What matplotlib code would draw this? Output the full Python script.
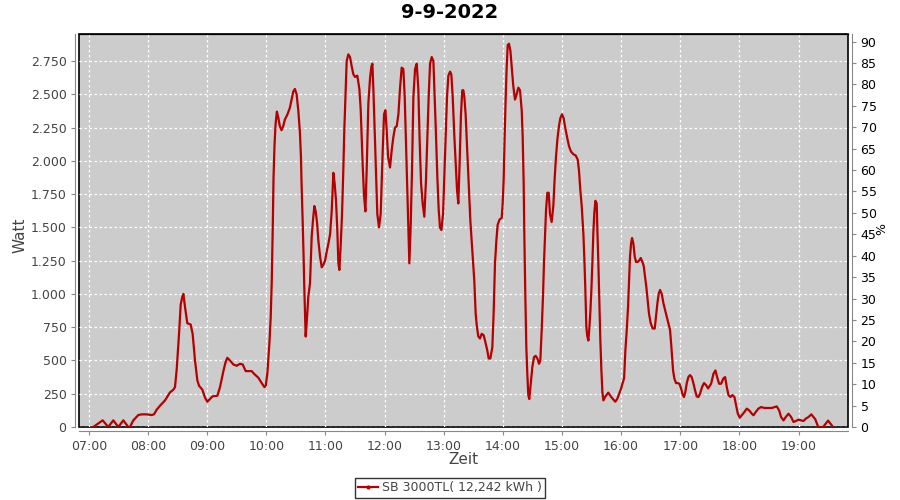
""" Tagesverlauf der Wechselrichterleistung (SB 3000TL) am 9-9-2022. """
import matplotlib
matplotlib.use("Agg")
import matplotlib.pyplot as plt
from matplotlib.lines import Line2D
from matplotlib.ticker import FuncFormatter, MultipleLocator

title = "9-9-2022"
series_name = "SB 3000TL( 12,242 kWh )"

# minutes after 07:00 and power in W
minutes = [
    4.4, 13.9, 19.6, 24.7, 29.8, 34.9, 39.9, 41.6, 45.0, 50.1, 53.5, 58.5, 63.6, 66.0,
    68.7, 72.1, 77.2, 82.2, 85.6, 87.3, 89.0, 91.4, 93.1, 94.8, 95.8, 97.5, 99.8,
    103.2, 105.2, 107.6, 110.0, 111.7, 115.1, 117.8, 120.1, 122.8, 125.2, 130.3,
    133.0, 136.4, 138.7, 140.4, 143.1, 146.5, 149.9, 153.3, 156.0, 159.0, 165.1,
    167.5, 171.9, 175.3, 178.0, 179.4, 181.0, 183.1, 184.4, 185.5, 186.5, 187.3,
    188.3, 189.3, 190.7, 192.0, 193.7, 195.4, 197.1, 198.8, 201.5, 203.9, 205.6,
    207.3, 209.0, 210.7, 212.4, 214.1, 215.1, 215.8, 216.8, 217.8, 218.5, 219.3,
    219.9, 220.9, 222.6, 224.3, 226.0, 227.4, 228.7, 230.1, 231.5, 232.8, 234.5,
    236.2, 237.9, 239.6, 241.3, 243.0, 244.7, 246.3, 248.0, 249.3, 250.7, 252.0,
    253.1, 254.1, 255.4, 256.8, 258.1, 259.1, 260.2, 261.5, 263.2, 264.9, 266.6,
    268.3, 270.0, 272.3, 274.4, 275.7, 276.7, 277.8, 279.1, 280.5, 281.8, 283.5,
    285.2, 286.6, 287.6, 288.6, 289.9, 291.3, 292.6, 294.3, 296.0, 297.0, 298.1,
    299.4, 300.8, 302.1, 303.5, 305.5, 307.2, 308.9, 310.6, 312.3, 314.0, 315.6,
    317.3, 319.0, 320.4, 321.7, 323.1, 324.1, 325.1, 326.5, 327.8, 329.2, 330.9,
    332.6, 334.2, 335.6, 337.0, 338.6, 340.3, 342.0, 343.4, 344.7, 346.1, 347.8,
    349.5, 350.8, 352.2, 353.5, 354.9, 356.2, 357.6, 359.3, 360.6, 362.0, 363.3,
    364.7, 366.4, 367.7, 369.1, 370.8, 372.1, 373.5, 374.8, 376.1, 377.5, 378.8,
    379.9, 380.9, 382.2, 383.2, 384.3, 385.6, 387.0, 388.3, 389.7, 391.0, 392.4,
    393.7, 395.1, 396.8, 398.5, 400.5, 402.5, 404.2, 405.6, 407.3, 409.3, 410.6,
    412.0, 413.4, 414.7, 416.7, 418.8, 419.8, 420.8, 421.8, 422.8, 423.8, 424.9,
    426.2, 427.6, 428.9, 430.6, 432.3, 434.0, 435.7, 437.4, 439.1, 440.1, 441.1,
    441.8, 442.8, 443.8, 444.8, 445.8, 446.8, 448.2, 449.9, 451.6, 453.3, 455.0,
    456.7, 458.0, 459.4, 460.7, 461.7, 462.7, 463.8, 465.1, 466.5, 467.8, 469.5,
    471.2, 472.5, 473.9, 475.3, 476.9, 478.3, 480.0, 481.7, 483.0, 485.1, 487.1,
    489.1, 491.5, 493.9, 495.9, 497.2, 498.6, 500.0, 501.7, 502.7, 503.7, 504.7,
    505.7, 506.8, 507.8, 508.8, 509.8, 510.8, 511.8, 512.8, 513.9, 515.2, 515.9,
    516.9, 517.9, 518.9, 520.0, 521.0, 522.0, 524.0, 527.0, 530.0, 534.0, 536.0,
    538.0, 540.0, 541.5, 543.0, 544.3, 545.7, 547.0, 548.0, 549.0,
    550.1, 551.1, 552.4, 553.8, 555.1, 556.5, 558.2, 559.9, 561.6, 562.9, 564.3,
    565.6, 567.0, 568.3, 570.0, 572.0, 574.1, 575.4, 576.8, 578.1, 579.5, 581.2,
    582.9, 584.6, 586.3, 587.9, 589.6, 590.7, 591.7, 592.7, 594.0, 595.7, 597.4,
    599.1, 600.8, 602.5, 603.8, 605.2, 606.6, 608.2, 609.9, 611.6, 613.3, 615.0,
    616.7, 618.4, 620.1, 622.1, 624.1, 626.2, 628.2, 631.3, 633.7, 635.7, 637.4,
    639.4, 641.4, 643.8, 645.5, 647.2, 648.9, 650.9, 652.9, 655.0, 656.3, 658.4,
    660.4, 662.4, 665.1, 667.5, 669.9, 672.6, 674.3, 676.6, 679.3, 682.0, 685.4,
    692.9, 697.9, 700.3, 702.3, 704.7, 707.1, 709.8, 712.5, 714.9, 717.2, 719.9,
    722.6, 725.0, 727.4, 730.1, 733.0, 737.0, 740.0, 745.0, 750.0, 755.0,
]
watt = [
    0, 50, 0, 50, 0, 50, 0, 0, 50, 90, 95, 95, 90, 95,
    130, 160, 200, 260, 280, 300, 430, 700, 920, 980, 1000, 900, 780,
    770, 700, 500, 350, 310, 280, 220, 190, 210, 230, 235,
    300, 420, 490, 520, 500, 470, 460, 475, 470, 420, 420,
    400, 370, 330, 300, 310, 400, 630, 820, 1100, 1500, 1880,
    2120, 2270, 2370, 2330, 2260, 2230, 2260, 2310, 2350, 2400, 2460,
    2520, 2540, 2500, 2380, 2210, 2030, 1810, 1560, 1280, 1050, 850,
    680, 780, 980, 1080, 1430, 1560, 1660, 1620, 1530, 1400, 1280,
    1200, 1220, 1250, 1320, 1380, 1450, 1620, 1910, 1830, 1700, 1480,
    1230, 1180, 1360, 1600, 1930, 2230, 2480, 2750, 2800, 2780, 2710,
    2650, 2630, 2640, 2540, 2390, 2190, 1960, 1740, 1620, 1930, 2430,
    2620, 2710, 2730, 2540, 2230, 1910, 1600, 1500, 1600, 1830, 2080,
    2350, 2380, 2230, 2030, 1950, 2080, 2180, 2250, 2260, 2350, 2540,
    2700, 2690, 2480, 2140, 1790, 1490, 1230, 1520, 1930, 2480, 2690,
    2730, 2540, 2140, 1830, 1680, 1580, 1860, 2180, 2480, 2730, 2780,
    2750, 2480, 2180, 1880, 1630, 1500, 1480, 1600, 1880, 2180, 2480,
    2640, 2670, 2650, 2480, 2180, 1980, 1780, 1680, 1980, 2350, 2530,
    2530, 2480, 2350, 2180, 1980, 1780, 1550, 1400, 1230, 1100, 850,
    750, 680, 665, 700, 690, 630, 575, 515, 515, 600, 850,
    1230, 1400, 1520, 1560, 1570, 1680, 1860, 2180, 2460, 2690, 2870,
    2880, 2830, 2710, 2560, 2460, 2500, 2550, 2530, 2380, 2180, 1830,
    1430, 980, 600, 400, 240, 210, 320, 450, 525, 535, 515,
    475, 500, 730, 980, 1230, 1430, 1630, 1760, 1760, 1600, 1540,
    1660, 1860, 2030, 2160, 2260, 2320, 2350, 2320, 2260, 2180, 2110,
    2070, 2050, 2040, 2010, 1930, 1780, 1660, 1450, 1260, 1030, 750,
    680, 650, 750, 870, 1030, 1230, 1460, 1610, 1700, 1680, 1480,
    1230, 930, 650, 420, 260, 200, 230, 258, 225, 190, 210,
    250, 290, 330, 365, 575, 730, 900, 1100, 1280,
    1380, 1420, 1380, 1280, 1240, 1240, 1250, 1270, 1240, 1210, 1130,
    1050, 950, 850, 780, 740, 740, 830, 930, 1000, 1030, 1000,
    930, 880, 830, 780, 730, 630, 525, 425, 365, 330, 330,
    325, 290, 240, 225, 265, 330, 375, 390, 375, 330, 275,
    230, 225, 250, 300, 330, 315, 290, 325, 400, 425, 375,
    325, 325, 365, 375, 300, 240, 225, 240, 225, 175, 100,
    70, 88, 113, 138, 125, 100, 88, 113, 138, 150, 143,
    143, 155, 125, 75, 50, 75, 100, 75, 38, 45, 55,
    50, 45, 63, 75, 95, 58, 0, 0, 48, 0,
]

x_ticks = list(range(0, 721, 60))
line_color = "#b40000"
tick_color = "#444444"


def hhmm(m, pos=None):
    m = int(round(m))
    return "%02d:%02d" % (7 + m // 60, m % 60)


def main():
    fig = plt.figure(figsize=(9, 5), dpi=100)
    ax = fig.add_axes([79 / 900, 1 - 427 / 500, 769 / 900, 393 / 500])
    ax2 = ax.twinx()

    ax.set_facecolor("#cccccc")
    ax.patch.set_edgecolor("black")
    ax.patch.set_linewidth(1.2)
    ax.plot(minutes, watt, color=line_color, lw=1.6, zorder=3)

    ax.set_xlim(-10.1, 770.2)
    ax.set_ylim(0, 2953)
    ax2.set_ylim(0, 91.76)

    ax.set_xticks(x_ticks)
    ax.xaxis.set_major_formatter(FuncFormatter(hhmm))
    ax.yaxis.set_major_locator(MultipleLocator(250))
    ax.yaxis.set_major_formatter(
        FuncFormatter(lambda v, p: "{:,.0f}".format(v).replace(",", ".")))
    ax2.yaxis.set_major_locator(MultipleLocator(5))

    ax.grid(True, color="white", linestyle=(0, (2, 2)), lw=0.9)
    ax.set_axisbelow(True)

    for a in (ax, ax2):
        for side in ("left", "bottom", "right"):
            a.spines[side].set_position(("outward", 3))
            a.spines[side].set_color("#888888")
        a.spines["top"].set_color("black")
    ax.spines["right"].set_visible(False)
    ax2.spines["left"].set_visible(False)
    ax2.spines["bottom"].set_visible(False)

    ax.tick_params(axis="both", direction="out", length=3, color="#888888",
                   labelcolor=tick_color, labelsize=9, pad=3)
    ax2.tick_params(axis="y", direction="out", length=3, color="#888888",
                    labelcolor="black", labelsize=9, pad=3)

    fig.text(0.5, 1 - 13 / 500, title, ha="center", va="center",
             fontsize=14, fontweight="bold")
    fig.text(20 / 900, 1 - 235 / 500, "Watt", rotation=90, ha="center",
             va="center", fontsize=11, color=tick_color)
    fig.text(463 / 900, 1 - 460 / 500, "Zeit", ha="center", va="center",
             fontsize=11, color=tick_color)
    fig.text(882 / 900, 1 - 229 / 500, "%", rotation=90, ha="center",
             va="center", fontsize=9, color="black")

    handle = Line2D([], [], color=line_color, lw=1.6, marker="o", markersize=2)
    leg = fig.legend([handle], [series_name], loc="center",
                     bbox_to_anchor=(0.5, 1 - 488 / 500), fontsize=9,
                     frameon=True, fancybox=False, handlelength=1.6,
                     handletextpad=0.3, borderpad=0.25, borderaxespad=0)
    leg.get_frame().set_edgecolor("black")
    leg.get_frame().set_linewidth(1.0)
    for t in leg.get_texts():
        t.set_color(tick_color)

    fig.savefig("out.png", dpi=100)


if __name__ == "__main__":
    main()
